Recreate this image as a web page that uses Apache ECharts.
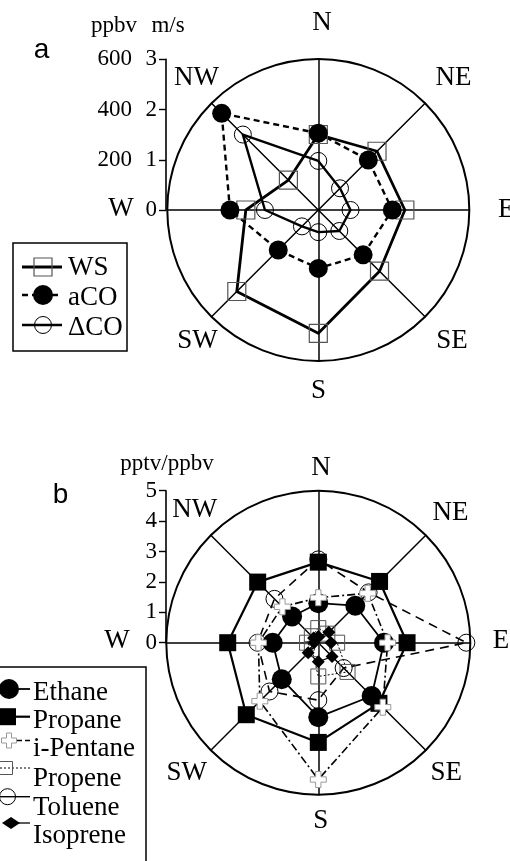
<!DOCTYPE html>
<html><head><meta charset="utf-8">
<script src="https://cdn.jsdelivr.net/npm/echarts@6/dist/echarts.min.js"></script>
<style>html,body{margin:0;padding:0;background:#fff}#c{width:510px;height:861px}</style>
</head><body><div id="c"></div>
<script>
// ---- data (clockwise from N) ----
const directions = ['N', 'NE', 'E', 'SE', 'S', 'SW', 'W', 'NW'];
// panel a
const wsValues  = [1.50, 1.65, 1.72, 1.72, 2.45, 2.29, 1.44, 0.84];   // m/s
const aCOValues = [305, 281, 294, 252, 232, 225, 351, 543];          // ppbv
const dCOValues = [195, 122, 128, 118, 88, 92, 212, 424];            // ppbv
const speedTicks = [0, 1, 2, 3];
const ppbvTicks = [0, 200, 400, 600];
// panel b (pptv/ppbv)
const ethane   = [1.30, 1.72, 2.16, 2.48, 2.45, 1.70, 1.50, 1.22];
const propane  = [2.65, 2.85, 2.92, 2.82, 3.28, 3.35, 2.98, 2.82];
const iPentane = [1.48, 2.30, 2.28, 3.00, 4.50, 2.72, 1.97, 1.67];
const propene  = [0.48, 0.42, 0.62, 1.36, 1.11, 0.30, 0.37, 0.30];
const toluene  = [2.74, 2.34, 4.87, 1.18, 1.89, 2.27, 2.00, 2.04];
const isoprene = [0.20, 0.49, 0.42, 0.64, 0.63, 0.47, 0.14, 0.22];
const ratioTicks = [0, 1, 2, 3, 4, 5];

// ECharts radar places indicators counter-clockwise; reorder to get N,NE,E... clockwise
const ccw = [0, 7, 6, 5, 4, 3, 2, 1];
const reorder = arr => ccw.map(i => arr[i]);

const serif = 'Liberation Serif';
const crossPath = 'path://M1,0H2V1H3V2H2V3H1V2H0V1H1Z';

function radarBase(center, radius, max, visible) {
  return {
    center: center, radius: radius, startAngle: 90, shape: 'circle', splitNumber: 1,
    indicator: ccw.map(i => ({ name: directions[i], min: 0, max: max })),
    axisName: { show: false },
    axisLine: { show: visible, lineStyle: { color: '#000', width: 1.5 } },
    splitLine: { show: visible, lineStyle: { color: '#000', width: 2 } },
    splitArea: { show: false },
    axisTick: { show: false }, axisLabel: { show: false }
  };
}
const CA = [318.3, 210], RA = 151;
const CB = [318.3, 642.7], RB = 152;

function rs(name, radarIndex, values, symbol, size, item, line) {
  return {
    type: 'radar', name: name, radarIndex: radarIndex, symbol: symbol, symbolSize: size,
    itemStyle: item, lineStyle: Object.assign({ color: '#000' }, line),
    silent: true, animation: false,
    data: [{ value: reorder(values), name: name }]
  };
}
const T = 'rgba(0,0,0,0)';
const series = [
  rs('WS', 0, wsValues, 'rect', 18, { color: T, borderColor: '#555', borderWidth: 1.2 }, { width: 2.8, type: 'solid' }),
  rs('ΔCO', 1, dCOValues, 'circle', 17, { color: T, borderColor: '#000', borderWidth: 1 }, { width: 2.4, type: 'solid' }),
  rs('aCO', 1, aCOValues, 'circle', 19, { color: '#000' }, { width: 2.4, type: [6, 4] }),
  rs('Toluene', 2, toluene, 'circle', 17, { color: T, borderColor: '#000', borderWidth: 1 }, { width: 1.6, type: [9, 6] }),
  rs('Ethane', 2, ethane, 'circle', 20, { color: '#000' }, { width: 1.8, type: 'solid' }),
  rs('Propane', 2, propane, 'rect', 17, { color: '#000' }, { width: 2.2, type: 'solid' }),
  rs('Propene', 2, propene, 'rect', 15, { color: T, borderColor: '#555', borderWidth: 1 }, { width: 1, type: [2, 2] }),
  rs('i-Pentane', 2, iPentane, crossPath, 16, { color: '#fff', borderColor: '#999', borderWidth: 1 }, { width: 1.6, type: [8, 3, 2, 3] }),
  rs('Isoprene', 2, isoprene, 'diamond', 13, { color: '#000' }, { width: 1.2, type: 'solid' })
];

function yax(grid, ticks, margin, showLine, hideZero) {
  return {
    type: 'value', gridIndex: grid, position: 'left',
    min: ticks[0], max: ticks[ticks.length - 1], interval: ticks[1] - ticks[0],
    axisLine: { show: showLine, lineStyle: { color: '#000', width: 1.6 } },
    axisTick: { show: showLine, length: 7, lineStyle: { color: '#000', width: 1.4 } },
    splitLine: { show: false },
    axisLabel: { color: '#000', fontFamily: serif, fontSize: 23, margin: margin,
      formatter: v => (hideZero && v === 0) ? '' : String(v) }
  };
}

// ---- text / legends (decoration) ----
const g = [];
function txt(s, x, y, size, align, family) {
  g.push({ type: 'text', x: x, y: y, silent: true,
    style: { text: s, fontFamily: family || serif, fontSize: size, fill: '#000', align: align || 'center', verticalAlign: 'middle' } });
}
const labelPosA = [[322, 23], [453.5, 78], [498, 209.5, 'left'], [452, 341], [318.5, 391], [197.5, 341], [121, 209], [196.5, 78]];
const labelPosB = [[321, 468], [450.5, 513], [492.7, 641, 'left'], [446.3, 773], [320.8, 821], [186.8, 773], [117, 641], [194.7, 509.5]];
directions.forEach((d, i) => {
  txt(d, labelPosA[i][0], labelPosA[i][1], 27, labelPosA[i][2]);
  txt(d, labelPosB[i][0], labelPosB[i][1], 27, labelPosB[i][2]);
});
txt('ppbv', 114, 26, 23);
txt('m/s', 168, 26, 23);
txt('pptv/ppbv', 167, 464, 23);
txt('a', 41.5, 50.5, 28, 'center', 'Liberation Sans');
txt('b', 60.5, 495.5, 28, 'center', 'Liberation Sans');

function gline(x1, y1, x2, y2, w, dash) {
  g.push({ type: 'line', silent: true, shape: { x1: x1, y1: y1, x2: x2, y2: y2 },
    style: { stroke: '#000', lineWidth: w, lineDash: dash || null } });
}
function gsym(kind, cx, cy, s, fill, stroke, lw) {
  const st = { fill: fill, stroke: stroke || null, lineWidth: lw || 0 };
  if (kind === 'circle') g.push({ type: 'circle', silent: true, shape: { cx: cx, cy: cy, r: s / 2 }, style: st });
  else if (kind === 'rect') g.push({ type: 'rect', silent: true, shape: { x: cx - s / 2, y: cy - s / 2, width: s, height: s }, style: st });
  else if (kind === 'diamond') g.push({ type: 'polygon', silent: true, shape: { points: [[cx, cy - s / 3], [cx + s / 2, cy], [cx, cy + s / 3], [cx - s / 2, cy]] }, style: st });
  else if (kind === 'cross') {
    const a = s / 6, h = s / 2;
    g.push({ type: 'polygon', silent: true, shape: { points: [
      [cx - a, cy - h], [cx + a, cy - h], [cx + a, cy - a], [cx + h, cy - a], [cx + h, cy + a], [cx + a, cy + a],
      [cx + a, cy + h], [cx - a, cy + h], [cx - a, cy + a], [cx - h, cy + a], [cx - h, cy - a], [cx - a, cy - a]] }, style: st });
  }
}
// legend a
g.push({ type: 'rect', silent: true, shape: { x: 13, y: 243, width: 114, height: 108 }, style: { fill: 'none', stroke: '#000', lineWidth: 1.5 } });
gline(22, 267, 62, 267, 2.8); gsym('rect', 43, 267, 18, 'none', '#555', 1.2); txt('WS', 68, 267.5, 27, 'left');
gline(22, 295, 62, 295, 2.4, [6, 4]); gsym('circle', 43, 295, 20, '#000'); txt('aCO', 68, 297.5, 27, 'left');
gline(22, 325, 62, 325, 2.4); gsym('circle', 43, 325, 17, 'none', '#000', 1); txt('ΔCO', 68, 327.5, 27, 'left');
// legend b
g.push({ type: 'rect', silent: true, shape: { x: -2, y: 667, width: 148, height: 300 }, style: { fill: 'none', stroke: '#000', lineWidth: 1.5 } });
gline(9, 689, 30, 689, 1.8); gsym('circle', 9, 689, 20, '#000'); txt('Ethane', 33, 692.5, 27, 'left');
gline(7.5, 716.7, 30, 716.7, 2.2); gsym('rect', 7.5, 716.7, 17, '#000'); txt('Propane', 33, 720.8, 27, 'left');
gline(16, 740.5, 30, 740.5, 1.6, [6, 3]); gsym('cross', 9, 740.5, 15, '#fff', '#999', 1); txt('i-Pentane', 33, 748.8, 27, 'left');
gline(0, 768, 30, 768, 1, [2, 2]); gsym('rect', 6, 768, 13, 'none', '#555', 1); txt('Propene', 33, 778.8, 27, 'left');
gline(0, 796.7, 30, 796.7, 1.4); gsym('circle', 7.5, 796.7, 16, 'none', '#000', 1); txt('Toluene', 33, 807.8, 27, 'left');
gline(11, 823, 30, 823, 1.3); gsym('diamond', 11, 823, 18, '#000'); txt('Isoprene', 33, 835.8, 27, 'left');

const option = {
  backgroundColor: '#fff',
  animation: false,
  radar: [radarBase(CA, RA, speedTicks[speedTicks.length - 1], true),
          radarBase(CA, RA, ppbvTicks[ppbvTicks.length - 1], false),
          radarBase(CB, RB, ratioTicks[ratioTicks.length - 1], true)],
  grid: [{ left: 166, top: 59.3, width: 5, height: 150.7 },
         { left: 166, top: 490.7, width: 5, height: 152 }],
  xAxis: [{ gridIndex: 0, type: 'value', show: false }, { gridIndex: 1, type: 'value', show: false }],
  yAxis: [yax(0, speedTicks, 9, true, false), yax(0, ppbvTicks, 34, false, true), yax(1, ratioTicks, 9, true, false)],
  series: series,
  graphic: g
};
const chart = echarts.init(document.getElementById('c'));
chart.setOption(option);
</script></body></html>
